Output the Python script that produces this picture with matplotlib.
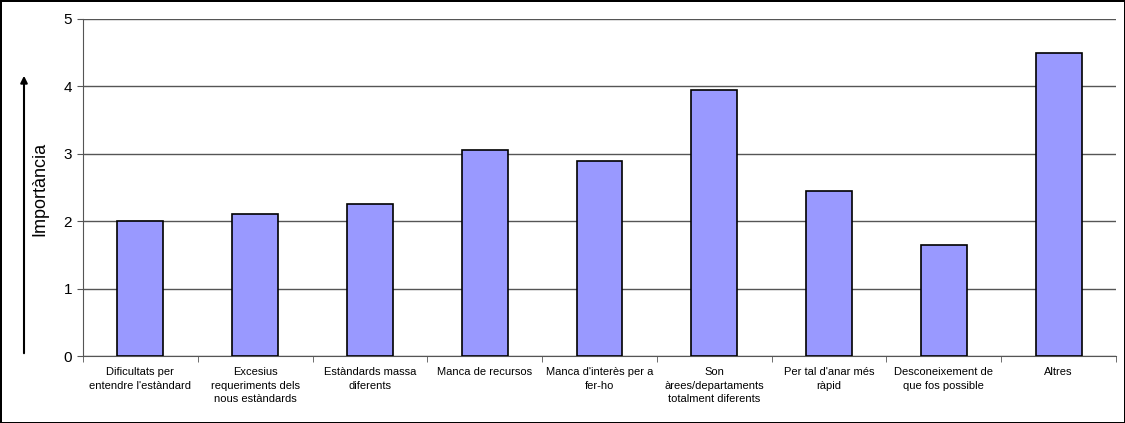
import matplotlib.pyplot as plt
import numpy as np

plt.rcParams['font.family'] = ['Liberation Sans', 'DejaVu Sans']

# Dades del grafic
categories = [
    "Dificultats per\nentendre l'estàndard",
    "Excesius\nrequeriments dels\nnous estàndards",
    "Estàndards massa\ndiferents",
    "Manca de recursos",
    "Manca d'interès per a\nfer-ho",
    "Son\nàrees/departaments\ntotalment diferents",
    "Per tal d'anar més\nràpid",
    "Desconeixement de\nque fos possible",
    "Altres",
]
importancia = [2.0, 2.11, 2.25, 3.05, 2.89, 3.94, 2.45, 1.64, 4.49]
yticks = [0, 1, 2, 3, 4, 5]

W, H = 1125, 423
fig = plt.figure(figsize=(W / 100, H / 100), dpi=100)
fig.patch.set_edgecolor('black')
fig.patch.set_linewidth(2)

ax = fig.add_axes([83 / W, 67 / H, 1033 / W, 337 / H])

x = np.arange(len(categories))
ax.bar(x, importancia, width=0.4, color='#9999FF', edgecolor='black', linewidth=1.2, zorder=3)

ax.set_xlim(-0.5, len(categories) - 0.5)
ax.set_ylim(0, 5)
ax.set_yticks(yticks)
ax.yaxis.grid(True, color='#555555', linewidth=1, zorder=0)

# Etiquetes de l'eix x centrades, marques entre categories
ax.set_xticks(x)
ax.set_xticklabels(categories, fontsize=8, linespacing=1.45, va='top')
ax.tick_params(axis='x', which='major', length=0, pad=8)
ax.set_xticks(np.arange(len(categories) + 1) - 0.5, minor=True)
ax.tick_params(axis='x', which='minor', length=4, color='#555555', direction='out')
ax.tick_params(axis='y', length=4, color='#555555', labelsize=11, pad=4)

for s in ['top', 'right']:
    ax.spines[s].set_visible(False)
ax.spines['left'].set_color('#555555')
ax.spines['bottom'].set_color('#555555')

# Fletxa i titol de l'eix y
ax.annotate('', xy=(24 / W, (H - 73) / H), xytext=(24 / W, (H - 356) / H),
            xycoords='figure fraction', textcoords='figure fraction',
            arrowprops=dict(arrowstyle='-|>', lw=1.5, color='black', mutation_scale=10))
fig.text(40 / W, (H - 189) / H, 'Importància', rotation=90, fontsize=13,
         ha='center', va='center')

fig.savefig('out.png', dpi=100, edgecolor=fig.get_edgecolor())
